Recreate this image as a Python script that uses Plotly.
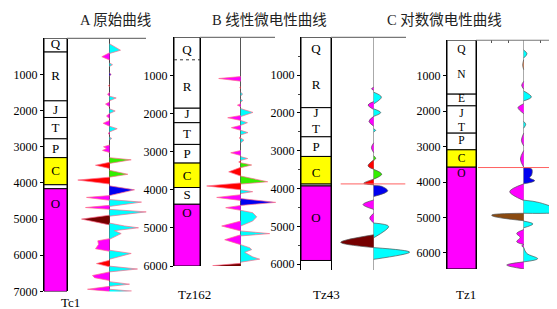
import plotly.graph_objects as go

W, H = 557, 309

# ------------------------------------------------------------------ data
TITLES = ["A 原始曲线", "B 线性微电性曲线", "C 对数微电性曲线"]
WELLS = ["Tc1", "Tz162", "Tz43", "Tz1"]
DEPTH_TICKS = [[1000, 2000, 3000, 4000, 5000, 6000, 7000],
               [1000, 2000, 3000, 4000, 5000, 6000],
               [1000, 2000, 3000, 4000, 5000, 6000],
               [1000, 2000, 3000, 4000, 5000, 6000]]
DEPTH_MAX = [7000, 6000, 6150, 6450]

# stratigraphic columns: top / bottom depth (m) and kind of each unit
A_unit_top = [0, 380, 1730, 2190, 2780, 3300, 4050, 4160]
A_unit_bot = [380, 1730, 2190, 2780, 3300, 4050, 4160, 7000]
A_unit_kind = ["w", "w", "w", "w", "w", "C", "w", "O"]
A_label_text = ["Q", "R", "J", "T", "P", "C", "O"]
A_label_depth = [190, 1050, 2000, 2510, 3080, 3700, 4600]

B_unit_top = [0, 1860, 2240, 2810, 3300, 3940, 4380]
B_unit_bot = [1860, 2240, 2810, 3300, 3940, 4380, 6000]
B_unit_kind = ["w", "w", "w", "w", "C", "w", "O"]
B_label_text = ["Q", "R", "J", "T", "P", "C", "S", "O"]
B_label_depth = [340, 1330, 2030, 2560, 3080, 3670, 4150, 4640]
B_dashed_depth = 590

C_unit_top = [0, 1860, 2630, 3150, 3880, 3930]
C_unit_bot = [1860, 2630, 3150, 3880, 3930, 5900]
C_unit_kind = ["w", "w", "w", "C", "w", "O"]
C_label_text = ["Q", "R", "J", "T", "P", "C", "O"]
C_label_depth = [336, 1270, 2020, 2450, 2920, 3620, 4800]

D_unit_top = [0, 1520, 1850, 2620, 3090, 3580]
D_unit_bot = [1520, 1850, 2620, 3090, 3580, 6450]
D_unit_kind = ["w", "w", "w", "w", "C", "O"]
D_label_text = ["Q", "N", "E", "J", "T", "P", "C", "O"]
D_label_depth = [280, 970, 1665, 2075, 2480, 2840, 3360, 3770]

# micro-resistivity wiggles: colour key, depths, amplitudes (- left, + right)
A_lobe_color = ["c", "m", "c", "b", "r", "m", "c", "m", "c", "m", "m", "c", "m", "c",
                "m", "g", "r", "g", "r", "b", "m", "c", "m", "c", "k", "c", "m",
                "c", "r", "c", "m", "c", "m", "c"]
A_lobe_depth = [[150, 330, 420], [400, 510, 600], [680, 730, 780], [950, 1000, 1050],
                [1280, 1310, 1340], [1490, 1550, 1600], [1600, 1650, 1730],
                [1760, 1820, 1890], [1950, 2010, 2080], [2080, 2150, 2220],
                [2270, 2350, 2430], [2430, 2500, 2590], [2600, 2630, 2660],
                [2730, 2770, 2810], [2950, 3000, 3050, 3100, 3160],
                [3300, 3360, 3460], [3430, 3510, 3600], [3650, 3760, 3840],
                [3840, 3920, 4030], [4080, 4190, 4350], [4350, 4400, 4480],
                [4460, 4530, 4650], [4620, 4680, 4730], [4730, 4800, 4920],
                [4890, 5000, 5160], [5110, 5190, 5240, 5320, 5400, 5560],
                [5540, 5600, 5700, 5820, 5890], [5860, 5950, 6110],
                [6140, 6230, 6320], [6300, 6380, 6460], [6460, 6560, 6620, 6700],
                [6730, 6800, 6860], [6860, 6940, 7000], [6940, 6990, 7040]]
A_lobe_amp = [[0, 11, 0], [0, -7.7, 0], [0, 3, 0], [0, 1.5, 0], [0, -1, 0], [0, -2, 0],
              [0, 6.7, 0], [0, -4, 0], [0, 5.7, 0], [0, -3, 0], [0, -6.3, 0],
              [0, 7.7, 0], [0, -1.5, 0], [0, 2.3, 0], [0, -6, -3, -7, 0],
              [0, 21.7, 0], [0, -14, 0], [0, 18.3, 0], [0, -31.7, 0], [0, 25, 0],
              [0, -23, 0], [0, 32, 0], [0, -24, 0], [0, 36.7, 0], [0, -28, 0],
              [0, 15, 29, 5, 11.7, 0], [0, -11.7, -11, -14, 0], [0, 21.7, 0],
              [0, -13, 0], [0, 28, 0], [0, -17, -15, 0], [0, 20, 0], [0, -22, 0],
              [0, 22, 0]]

B_lobe_color = ["m", "r", "c", "c", "m", "c", "m", "c", "m", "c", "r", "c", "m", "c",
                "r", "g", "r", "g", "r", "c", "m", "b", "m", "c", "m", "c", "m", "c", "k"]
B_lobe_depth = [[1030, 1080, 1150], [1300, 1320, 1340], [1440, 1490, 1540],
                [1620, 1660, 1700], [1740, 1780, 1820], [1870, 1970, 2080],
                [2050, 2110, 2180], [2180, 2240, 2310], [2310, 2370, 2440],
                [2440, 2500, 2560], [2620, 2640, 2660], [2640, 2700, 2770],
                [2970, 3030, 3100], [3130, 3180, 3230], [3240, 3270, 3300],
                [3290, 3350, 3420], [3410, 3530, 3640], [3640, 3790, 3850],
                [3820, 3900, 4000], [4000, 4050, 4100], [4130, 4200, 4280],
                [4230, 4330, 4410], [4410, 4470, 4540], [4540, 4600, 4710, 4820, 4950],
                [4820, 4950, 5080], [5080, 5150, 5210], [5180, 5310, 5440],
                [5440, 5520, 5570, 5640, 5760, 5820, 5900], [5930, 5990, 6060]]
B_lobe_amp = [[0, -22, 0], [0, -1, 0], [0, 2, 0], [0, 2, 0], [0, -3.3, 0], [0, 12.3, 0],
              [0, -13, 0], [0, 6.7, 0], [0, -9.3, 0], [0, 7.3, 0], [0, -1.5, 0],
              [0, 3.3, 0], [0, -10, 0], [0, 7, 0], [0, -2, 0], [0, 11, 0], [0, -12, 0],
              [0, 27, 0], [0, -34, 0], [0, 12, 0], [0, -24, 0], [0, 35, 0], [0, -15, 0],
              [0, 12, 16, 12, 0], [0, -19, 0], [0, 29, 0], [0, -16, 0],
              [0, 9, 11, 4, 12, 19, 0], [0, -28, 0]]

C_lobe_color = ["m", "c", "m", "c", "m", "c", "m", "g", "r", "g", "r", "b", "m", "m",
                "c", "k", "c"]
C_lobe_depth = [[1320, 1360, 1400], [1450, 1580, 1760], [1700, 1790, 1910],
                [1890, 1990, 2090], [2090, 2220, 2350], [2420, 2460, 2500],
                [2790, 2920, 3050], [3130, 3200, 3260], [3240, 3400, 3490],
                [3490, 3620, 3750], [3750, 3860, 3900], [3920, 3940, 4060, 4210],
                [4300, 4420, 4550], [4650, 4780, 4910], [4910, 5000, 5300],
                [5220, 5420, 5560], [5560, 5680, 5870]]
C_lobe_amp = [[0, -2.3, 0], [0, 7.7, 0], [0, -5.7, 0], [0, 7, 0], [0, -4.7, 0],
              [0, 2, 0], [0, -2.3, 0], [0, 2, 0], [0, -5.7, 0], [0, 8, 0], [0, -10, 0],
              [0, 8, 14, 0], [0, -10.7, 0], [0, -4, 0], [0, 15, 0], [0, -33, 0],
              [0, 36, 0]]
C_boundary_depth = 3876
C_boundary_amp = [-33, 31.6]

D_lobe_color = ["c", "o", "m", "c", "m", "c", "m", "m", "b", "m", "c", "n", "c", "m",
                "m", "c", "m"]
D_lobe_depth = [[275, 380, 500], [550, 700, 830], [1160, 1270, 1380],
                [1430, 1600, 1710], [1790, 1900, 2070], [2290, 2370, 2480],
                [2620, 2830, 2980], [3110, 3350, 3580],
                [3600, 3630, 3800, 3880, 3960, 4050], [4050, 4270, 4520],
                [4510, 4580, 4830, 4880], [4880, 4930, 4960, 5090],
                [5100, 5180, 5290], [5340, 5450, 5560, 5680, 5760],
                [5760, 5800, 5840], [5840, 6010, 6160, 6250], [6250, 6340, 6450]]
D_lobe_amp = [[0, 3.3, 0], [0, -1, 0], [0, -2, 0], [0, 7.7, 0], [0, -5.7, 0],
              [0, 2, 0], [0, -2.3, 0], [0, -3.3, 0], [0, 8, 8, 6, 11, 0],
              [0, -14, 0], [0, 16, 37.7, 0], [0, -32, -31, 0], [0, 9.3, 0],
              [0, -7, -3.5, -7, 0], [0, -2, 0], [0, 3, 14, 0], [0, -17, 0]]
D_boundary_depth = 3590
D_boundary_amp = [-45.7, 26]

# ------------------------------------------------------------------ styles / layout
FILL = {"m": "#ff00ff", "c": "#00ffff", "r": "#ff0000", "g": "#33ee00",
        "b": "#0000f0", "k": "#760000", "o": "#e07840", "n": "#8a4a10"}
UNIT_FILL = {"w": "#ffffff", "C": "#ffff00", "O": "#ff00ff"}
SERIF = "Liberation Serif, Times New Roman, serif"
CJK = "Liberation Serif, Noto Sans CJK SC, serif"

# pixel geometry of each panel: column x0,x1 ; track x0,x1 ; centre ; depth-0 y ; bottom y
PANELS = [
    dict(c0=36, c1=59, t0=59, t1=145, ctr=101.5, y0=31, yb=290, top_end=138,
         spline=False, outline="#ff6a8a", zl="#444444", lsize=13),
    dict(c0=166, c1=192, t0=192, t1=275, ctr=232.7, y0=30, yb=264, top_end=267,
         spline=False, outline="#ff6a8a", zl="#555555", lsize=13),
    dict(c0=293, c1=323, t0=323, t1=405, ctr=365.7, y0=30, yb=268, top_end=398,
         spline=True, outline="#555555", zl="#aaaaaa", lsize=13),
    dict(c0=439, c1=468, t0=468, t1=557, ctr=515.7, y0=33, yb=267, top_end=547,
         spline=True, outline="#555555", zl="#aaaaaa", lsize=11.5),
]

units = [(A_unit_top, A_unit_bot, A_unit_kind, A_label_text, A_label_depth),
         (B_unit_top, B_unit_bot, B_unit_kind, B_label_text, B_label_depth),
         (C_unit_top, C_unit_bot, C_unit_kind, C_label_text, C_label_depth),
         (D_unit_top, D_unit_bot, D_unit_kind, D_label_text, D_label_depth)]
lobes = [(A_lobe_color, A_lobe_depth, A_lobe_amp),
         (B_lobe_color, B_lobe_depth, B_lobe_amp),
         (C_lobe_color, C_lobe_depth, C_lobe_amp),
         (D_lobe_color, D_lobe_depth, D_lobe_amp)]


def ax_name(kind, n):
    return kind if n == 1 else f"{kind}{n}"


fig = go.Figure()
layout = dict(width=W, height=H, margin=dict(l=0, r=0, t=0, b=0),
              paper_bgcolor="white", plot_bgcolor="rgba(0,0,0,0)",
              showlegend=False, barmode="overlay", shapes=[], annotations=[])

for i, p in enumerate(PANELS):
    xc, xt, yi = 2 * i + 1, 2 * i + 2, i + 1
    xc_ref, xt_ref, y_ref = ax_name("x", xc), ax_name("x", xt), ax_name("y", yi)
    top, bot, kind, ltxt, ldep = units[i]

    # column
    fig.add_trace(go.Bar(x=[0.5] * len(top), y=[b - t for t, b in zip(top, bot)],
                         base=top, width=1, xaxis=xc_ref, yaxis=y_ref,
                         marker=dict(color=[UNIT_FILL[k] for k in kind],
                                     line=dict(color="black", width=1)),
                         cliponaxis=False, hoverinfo="skip"))
    fig.add_trace(go.Scatter(x=[0.5] * len(ltxt), y=ldep, text=ltxt, mode="text",
                             textfont=dict(family=SERIF, size=p["lsize"], color="black"),
                             xaxis=xc_ref, yaxis=y_ref, hoverinfo="skip"))
    if i == 1:
        fig.add_trace(go.Scatter(x=[0, 1], y=[B_dashed_depth] * 2, mode="lines",
                                 line=dict(color="#333", width=1, dash="dot"),
                                 xaxis=xc_ref, yaxis=y_ref, hoverinfo="skip"))

    # wiggles
    cols, deps, amps = lobes[i]
    for c, d, a in zip(cols, deps, amps):
        fig.add_trace(go.Scatter(
            x=a, y=d, mode="lines", fill="toself", fillcolor=FILL[c],
            line=dict(color=p["outline"], width=0.7,
                      shape="spline" if p["spline"] else "linear"),
            xaxis=xt_ref, yaxis=y_ref, hoverinfo="skip"))

    if i == 2:
        fig.add_trace(go.Scatter(x=C_boundary_amp, y=[C_boundary_depth] * 2, mode="lines",
                                 line=dict(color="#ff6060", width=1),
                                 xaxis=xt_ref, yaxis=y_ref, hoverinfo="skip"))
    if i == 3:
        fig.add_trace(go.Scatter(x=D_boundary_amp, y=[D_boundary_depth] * 2, mode="lines",
                                 line=dict(color="#ff6060", width=1),
                                 xaxis=xt_ref, yaxis=y_ref, hoverinfo="skip"))

    layout[ax_name("xaxis", xc)] = dict(domain=[p["c0"] / W, p["c1"] / W], range=[0, 1],
                                        visible=False, anchor=y_ref, fixedrange=True)
    xt_dict = dict(domain=[p["t0"] / W, p["t1"] / W],
                   range=[p["t0"] - p["ctr"], p["t1"] - p["ctr"]],
                   anchor=y_ref, side="top", showgrid=False, showticklabels=False,
                   showline=False, zeroline=True, zerolinecolor=p["zl"],
                   zerolinewidth=1, fixedrange=True, ticks="")
    if i == 3:
        xt_dict.update(ticks="inside", ticklen=3, tickcolor="#555",
                       tickvals=[-32.7, -15.7, 16.3])
    layout[ax_name("xaxis", xt)] = xt_dict
    y_dict = dict(domain=[1 - p["yb"] / H, 1 - p["y0"] / H], range=[DEPTH_MAX[i], 0],
                  anchor=xc_ref, showline=True, mirror=True, linecolor="black",
                  linewidth=1, showgrid=False, zeroline=False, ticks="outside",
                  ticklen=3, tickcolor="black", tickvals=DEPTH_TICKS[i],
                  tickfont=dict(family=SERIF, size=12, color="black"), fixedrange=True)
    if i == 2:
        y_dict["minor"] = dict(ticks="outside", ticklen=2, tickcolor="#444",
                               tickvals=[500, 1500, 2500, 3500, 4500, 5500])
    layout[ax_name("yaxis", yi)] = y_dict

    # top border line of the track
    layout["shapes"].append(dict(type="line", xref="paper", yref="paper",
                                 x0=p["c1"] / W, x1=p["top_end"] / W,
                                 y0=1 - p["y0"] / H, y1=1 - p["y0"] / H,
                                 line=dict(color="#777", width=1.2)))

# titles and well names
TITLE_X = [107, 261, 436]
for t, x in zip(TITLES, TITLE_X):
    layout["annotations"].append(dict(text=t, x=x / W, y=1 - 12 / H, xref="paper",
                                      yref="paper", showarrow=False,
                                      xanchor="center", yanchor="middle",
                                      font=dict(family=CJK, size=14.5, color="#222")))
WELL_X = [62, 186, 318, 458]
WELL_Y = [301, 293, 293, 293]
for t, x, y in zip(WELLS, WELL_X, WELL_Y):
    layout["annotations"].append(dict(text=t, x=x / W, y=1 - y / H, xref="paper",
                                      yref="paper", showarrow=False,
                                      xanchor="center", yanchor="middle",
                                      font=dict(family=SERIF, size=13, color="black")))

fig.update_layout(**layout)
fig.write_html("out.html")
